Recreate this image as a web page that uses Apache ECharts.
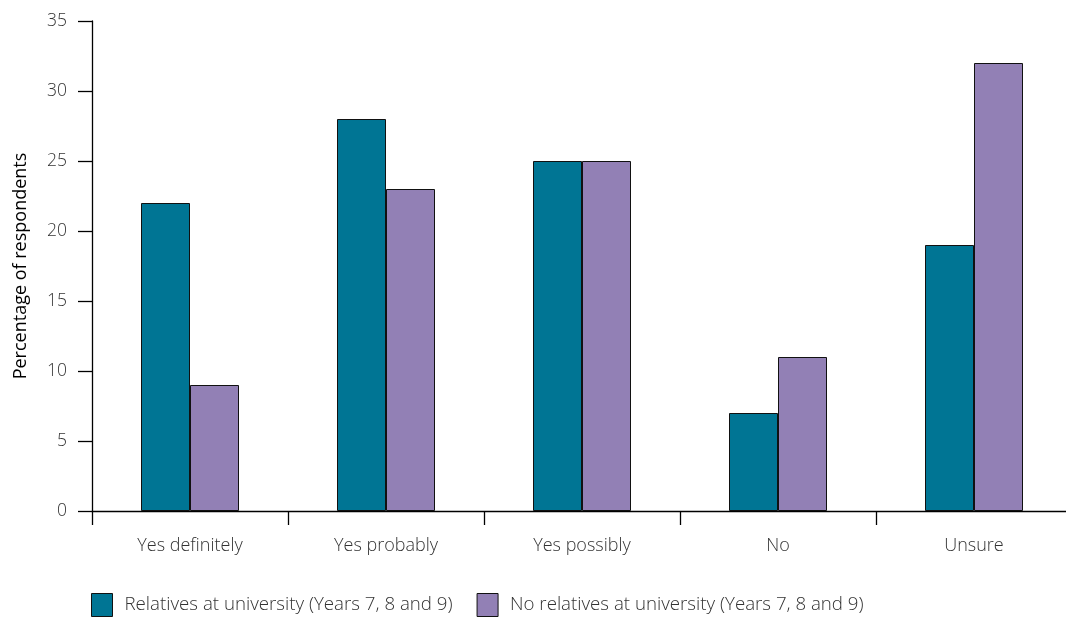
<!DOCTYPE html>
<html><head><meta charset="utf-8">
<script src="https://cdn.jsdelivr.net/npm/echarts@6/dist/echarts.min.js"></script>
<style>html,body{margin:0;padding:0;background:#fff;overflow:hidden}#c{width:1080px;height:617px}</style>
</head><body><div id="c"></div>
<script>
const categories = ['Yes definitely', 'Yes probably', 'Yes possibly', 'No', 'Unsure'];
const relatives = [22, 28, 25, 7, 19];
const noRelatives = [9, 23, 25, 11, 32];
const seriesNames = ['Relatives at university (Years 7, 8 and 9)', 'No relatives at university (Years 7, 8 and 9)'];

const font = 'Open Sans';
const chart = echarts.init(document.getElementById('c'), null, {renderer: 'canvas'});
chart.setOption({
  animation: false,
  backgroundColor: '#fff',
  textStyle: {fontFamily: font},
  grid: {left: 92, top: 21, width: 980, height: 490, containLabel: false},
  legend: {
    left: 86, top: 588, itemWidth: 21, itemHeight: 23, itemGap: 24,
    icon: 'rect',
    textStyle: {fontFamily: font, fontSize: 18.7, color: '#333', fontWeight: 300, padding: [0, 0, 0, 7]},
    data: seriesNames.map(n => ({name: n, itemStyle: {borderColor: '#111', borderWidth: 1}}))
  },
  xAxis: {
    type: 'category', data: categories,
    axisLine: {lineStyle: {color: '#000', width: 1.3}},
    axisTick: {show: true, length: 14, lineStyle: {color: '#000', width: 1.3}},
    axisLabel: {fontFamily: font, fontSize: 18, color: '#333', margin: 26, fontWeight: 300}
  },
  yAxis: {
    type: 'value', min: 0, max: 35, interval: 5,
    name: 'Percentage of respondents', nameLocation: 'middle', nameGap: 62,
    nameTextStyle: {fontFamily: font, fontSize: 18, color: '#000'},
    axisLine: {show: true, lineStyle: {color: '#000', width: 1.3}},
    axisTick: {show: true, inside: false, length: 14, lineStyle: {color: '#000', width: 1.3}},
    axisLabel: {fontFamily: font, fontSize: 17.5, color: '#333', margin: 25, fontWeight: 300},
    splitLine: {show: false}
  },
  series: [
    {name: seriesNames[0], type: 'bar', data: relatives, barWidth: '25%', barGap: '0%',
     itemStyle: {color: '#007594', borderColor: '#111', borderWidth: 1}},
    {name: seriesNames[1], type: 'bar', data: noRelatives, barWidth: '25%', barGap: '0%',
     itemStyle: {color: '#9280b5', borderColor: '#111', borderWidth: 1}}
  ]
});
</script></body></html>
